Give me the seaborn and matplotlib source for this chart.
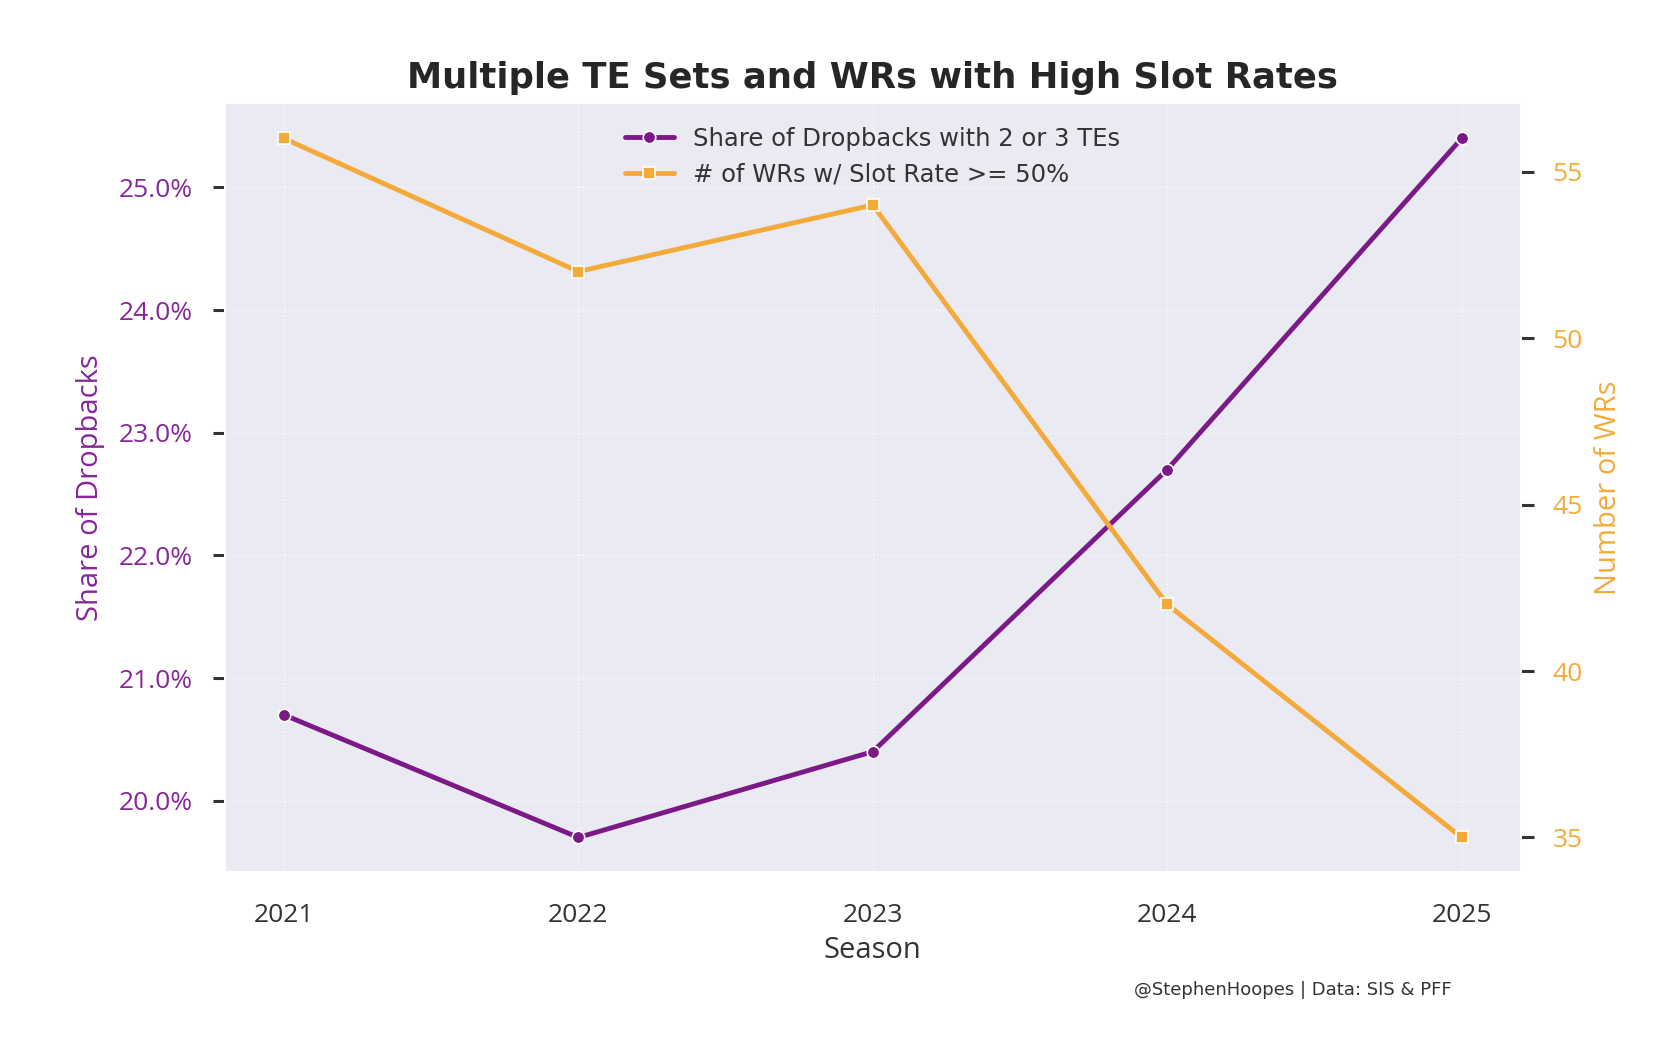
import seaborn as sns
import matplotlib.pyplot as plt
import pandas as pd
from matplotlib.ticker import PercentFormatter

# data
seasons = [2021, 2022, 2023, 2024, 2025]
te_share = [20.7, 19.7, 20.4, 22.7, 25.4]   # % of dropbacks with 2 or 3 TEs
slot_wrs = [56, 52, 54, 42, 35]             # WRs with slot rate >= 50%

purple = "#7B1A87"
orange = "#F4AA3A"

sns.set_theme(style="darkgrid")
plt.rcParams["font.family"] = ["Open Sans", "DejaVu Sans"]

df = pd.DataFrame({"Season": seasons, "te": te_share, "wrs": slot_wrs})

fig = plt.figure(figsize=(16.72, 10.58), dpi=100)
ax = fig.add_axes([0.1346, 0.1754, 0.7748, 0.7268])
ax2 = ax.twinx()

sns.lineplot(data=df, x="Season", y="te", ax=ax, color=purple, marker="o",
             lw=3.5, ms=9, mec="white", mew=1.2,
             label="Share of Dropbacks with 2 or 3 TEs", legend=False)
sns.lineplot(data=df, x="Season", y="wrs", ax=ax2, color=orange, marker="s",
             lw=3.5, ms=9, mec="white", mew=1.2,
             label="# of WRs w/ Slot Rate >= 50%", legend=False)

ax.set_xticks(seasons)
ax.yaxis.set_major_formatter(PercentFormatter(decimals=1))
ax2.set_yticks([35, 40, 45, 50, 55])

ax.grid(True, linestyle=":", color="white", lw=1.0, alpha=0.85)
ax2.grid(False)

ax.tick_params(axis="x", labelsize=19, labelcolor="#333333", pad=16)
ax.tick_params(axis="y", left=True, length=9, width=2.2, color="#333333",
               labelsize=19, labelcolor="#86279A", pad=14)
ax2.tick_params(axis="y", right=True, length=9, width=2.2, color="#333333",
                labelsize=19, labelcolor=orange, pad=14)

ax.set_xlabel("Season", fontsize=21, color="#333333", labelpad=6)
ax.set_ylabel("Share of Dropbacks", fontsize=21, color="#86279A", labelpad=10)
ax2.set_ylabel("Number of WRs", fontsize=21, color=orange, labelpad=8)

ax.set_title("Multiple TE Sets and WRs with High Slot Rates", fontsize=25.5,
             fontweight="bold", family="DejaVu Sans", color="#262626", pad=11)

h1, l1 = ax.get_legend_handles_labels()
h2, l2 = ax2.get_legend_handles_labels()
ax.legend(h1 + h2, l1 + l2, loc="upper center", frameon=False,
          prop={"family": "DejaVu Sans", "size": 17.5}, handlelength=2.0,
          borderaxespad=0.55, labelspacing=0.5, labelcolor="#333333")

fig.text(0.868, 0.0645, "@StephenHoopes | Data: SIS & PFF", ha="right",
         va="center", fontsize=13, family="DejaVu Sans", color="#333333")

fig.savefig("out.png", dpi=100)
